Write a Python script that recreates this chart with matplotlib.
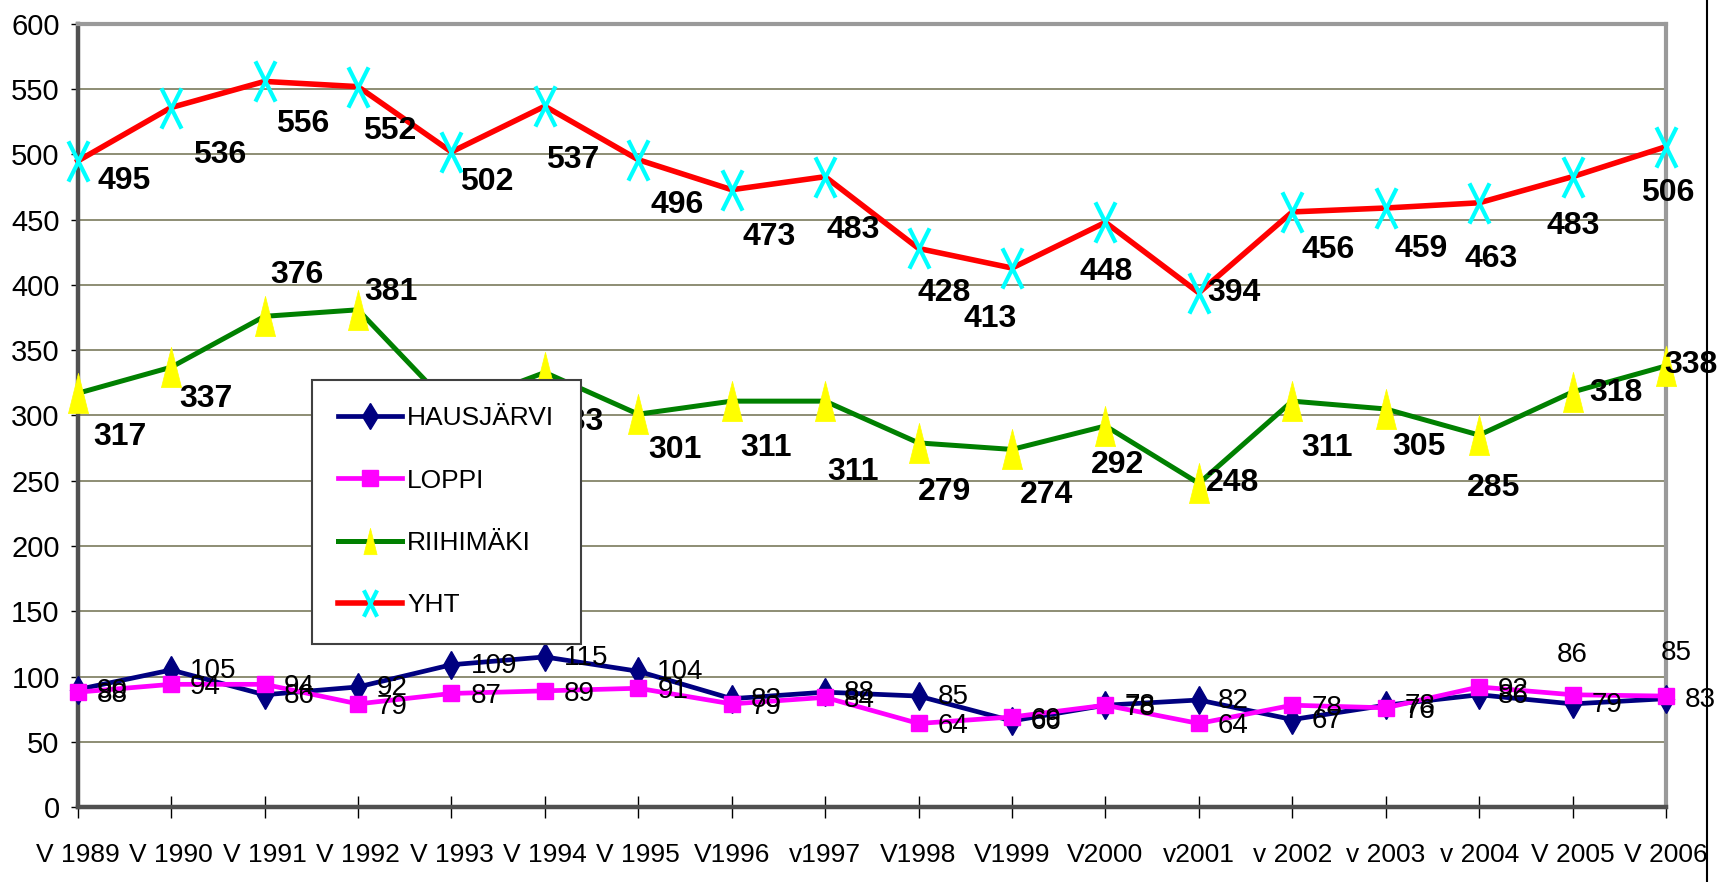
"""Yearly totals per municipality (HAUSJÄRVI, LOPPI, RIIHIMÄKI) and their sum,
1989-2006, recreated as an Excel-style line chart.

Writes out.png
"""

import matplotlib
matplotlib.use("Agg")
import matplotlib.pyplot as plt
from matplotlib import font_manager
from matplotlib.font_manager import FontProperties
from matplotlib.lines import Line2D
from matplotlib.path import Path


YEARS = ["V 1989", "V 1990", "V 1991", "V 1992", "V 1993", "V 1994",
         "V 1995", "V1996", "v1997", "V1998", "V1999", "V2000", "v2001",
         "v 2002", "v 2003", "v 2004", "V 2005", "V 2006"]
HAUSJARVI = [90, 105, 86, 92, 109, 115, 104, 83, 88, 85, 66, 78, 82, 67, 78, 86, 79, 83]
LOPPI = [88, 94, 94, 79, 87, 89, 91, 79, 84, 64, 69, 78, 64, 78, 76, 92, 86, 85]
RIIHIMAKI = [317, 337, 376, 381, 306, 333, 301, 311, 311, 279, 274, 292, 248,
             311, 305, 285, 318, 338]
YHT = [495, 536, 556, 552, 502, 537, 496, 473, 483, 428, 413, 448, 394, 456,
       459, 463, 483, 506]

# label offsets (dx, dy) in pixels, dy positive = downwards
YHT_OFFS = [(46, 20), (49, 47), (38, 43), (32, 44), (35, 30), (28, 54),
            (39, 45), (37, 47), (28, 53), (26, 45), (-22, 51), (1, 50),
            (35, 0), (36, 38), (35, 41), (12, 56), (1, 49), (2, 46)]
RII_OFFS = [(42, 44), (35, 32), (32, -41), (33, -18), (33, 30), (32, 50),
            (37, 36), (34, 47), (28, 71), (26, 49), (35, 46), (12, 39),
            (34, 0), (35, 47), (33, 38), (14, 53), (43, 1), (25, -1)]


def find_narrow():
    # Excel used a squeezed Arial; use a real narrow Arial-like face if present
    reg = bold = None
    for f in font_manager.fontManager.ttflist:
        if f.name.lower() not in ("liberation sans narrow", "arial narrow"):
            continue
        if f.style != "normal":
            continue
        if f.weight in ("bold", 700):
            bold = f.fname
        else:
            reg = f.fname
    return (reg, bold) if reg and bold else (None, None)


REG_FILE, BOLD_FILE = find_narrow()
# font sizes (pt): narrow face can be taller at the same width
SIZES = {"xtick": 19, "ytick": 21, "small": 20, "bold": 23, "legend": 19}
if REG_FILE:
    SIZES = {k: v * 1.18 for k, v in SIZES.items()}


def fp(key, bold=False):
    size = SIZES[key]
    if REG_FILE:
        return FontProperties(fname=BOLD_FILE if bold else REG_FILE, size=size)
    return FontProperties(family="Liberation Sans", size=size,
                          weight="bold" if bold else "normal")


TALL_TRI = Path([(-0.25, -0.5), (0.25, -0.5), (0.0, 0.5), (-0.25, -0.5)],
                [Path.MOVETO, Path.LINETO, Path.LINETO, Path.CLOSEPOLY])
TALL_X = Path([(-0.25, -0.5), (0.25, 0.5), (-0.25, 0.5), (0.25, -0.5)],
              [Path.MOVETO, Path.LINETO, Path.MOVETO, Path.LINETO])

STYLE = {
    "HAUSJÄRVI": dict(color="#000080", lw=3.4, marker="d", ms=14,
                      mfc="#000080", mec="#000080"),
    "LOPPI": dict(color="#ff00ff", lw=3.4, marker="s", ms=11,
                  mfc="#ff00ff", mec="#ff00ff"),
    "RIIHIMÄKI": dict(color="#008000", lw=3.6, marker=TALL_TRI, ms=29,
                      mfc="#ffff00", mec="#ffff00", mew=0.5),
    "YHT": dict(color="#ff0000", lw=4.0, marker=TALL_X, ms=29,
                mfc="none", mec="#00ffff", mew=3.0),
}


def main():
    fig = plt.figure(figsize=(17.17, 8.82), dpi=100)
    W, H = 1717, 882
    x0, x1, ytop, ybot = 77.7, 1666, 24, 807
    ax = fig.add_axes([x0 / W, 1 - ybot / H, (x1 - x0) / W, (ybot - ytop) / H])

    xs = list(range(len(YEARS)))
    series = [("HAUSJÄRVI", HAUSJARVI), ("LOPPI", LOPPI),
              ("RIIHIMÄKI", RIIHIMAKI), ("YHT", YHT)]
    for name, vals in series:
        ax.plot(xs, vals, clip_on=False, zorder=3, **STYLE[name])

    small = fp("small")
    bold = fp("bold", bold=True)
    for i, v in enumerate(HAUSJARVI):
        ax.annotate(str(v), (i, v), xytext=(19, -1), textcoords="offset pixels",
                    ha="left", va="center", fontproperties=small, zorder=5,
                    annotation_clip=False)
    for i, v in enumerate(LOPPI):
        if i == 16:
            off, ha = (0, 40), "center"
        elif i == 17:
            off, ha = (10, 43), "center"
        else:
            off, ha = (19, -3), "left"
        ax.annotate(str(v), (i, v), xytext=off, textcoords="offset pixels",
                    ha=ha, va="center", fontproperties=small, zorder=5,
                    annotation_clip=False)
    for vals, offs in ((RIIHIMAKI, RII_OFFS), (YHT, YHT_OFFS)):
        for i, v in enumerate(vals):
            dx, dy = offs[i]
            ax.annotate(str(v), (i, v), xytext=(dx, -dy), textcoords="offset pixels",
                        ha="center", va="center", fontproperties=bold, zorder=5,
                        annotation_clip=False)

    ax.set_xlim(0, len(YEARS) - 1)
    ax.set_ylim(0, 600)
    ax.set_yticks(range(0, 601, 50))
    ax.set_xticks(xs)
    ax.set_xticklabels(YEARS)
    for lab in ax.get_xticklabels():
        lab.set_fontproperties(fp("xtick"))
    for lab in ax.get_yticklabels():
        lab.set_fontproperties(fp("ytick"))
    ax.tick_params(axis="x", direction="inout", length=16, width=1, pad=18)
    ax.tick_params(axis="y", direction="out", length=5, width=1, pad=8)
    ax.grid(axis="y", color="#7a7a5c", lw=1.2)
    ax.set_axisbelow(True)
    for side in ("left", "bottom"):
        ax.spines[side].set_color("#505050")
        ax.spines[side].set_linewidth(3.2)
    for side in ("top", "right"):
        ax.spines[side].set_color("#9a9a9a")
        ax.spines[side].set_linewidth(3.0)

    handles = [
        Line2D([], [], **{**STYLE["HAUSJÄRVI"], "ms": 13}),
        Line2D([], [], **{**STYLE["LOPPI"], "ms": 12}),
        Line2D([], [], **{**STYLE["RIIHIMÄKI"], "ms": 19}),
        Line2D([], [], **{**STYLE["YHT"], "ms": 19}),
    ]
    leg = ax.legend(handles, [s[0] for s in series], loc="upper left",
                    bbox_to_anchor=((312 - x0) / (x1 - x0), (ybot - 380) / (ybot - ytop)),
                    borderaxespad=0, prop=fp("legend"), frameon=True, fancybox=False,
                    borderpad=1.0, labelspacing=1.45, handlelength=2.4,
                    handletextpad=0.2, numpoints=1)
    leg.get_frame().set_edgecolor("#404040")
    leg.get_frame().set_linewidth(1.5)
    leg.get_frame().set_facecolor("white")
    leg.get_frame().set_alpha(1)
    leg.set_zorder(10)

    fig.add_artist(Line2D([1707 / W] * 2, [0, 1], transform=fig.transFigure,
                          color="black", lw=1.5))

    fig.savefig("out.png", dpi=100)


if __name__ == "__main__":
    main()
